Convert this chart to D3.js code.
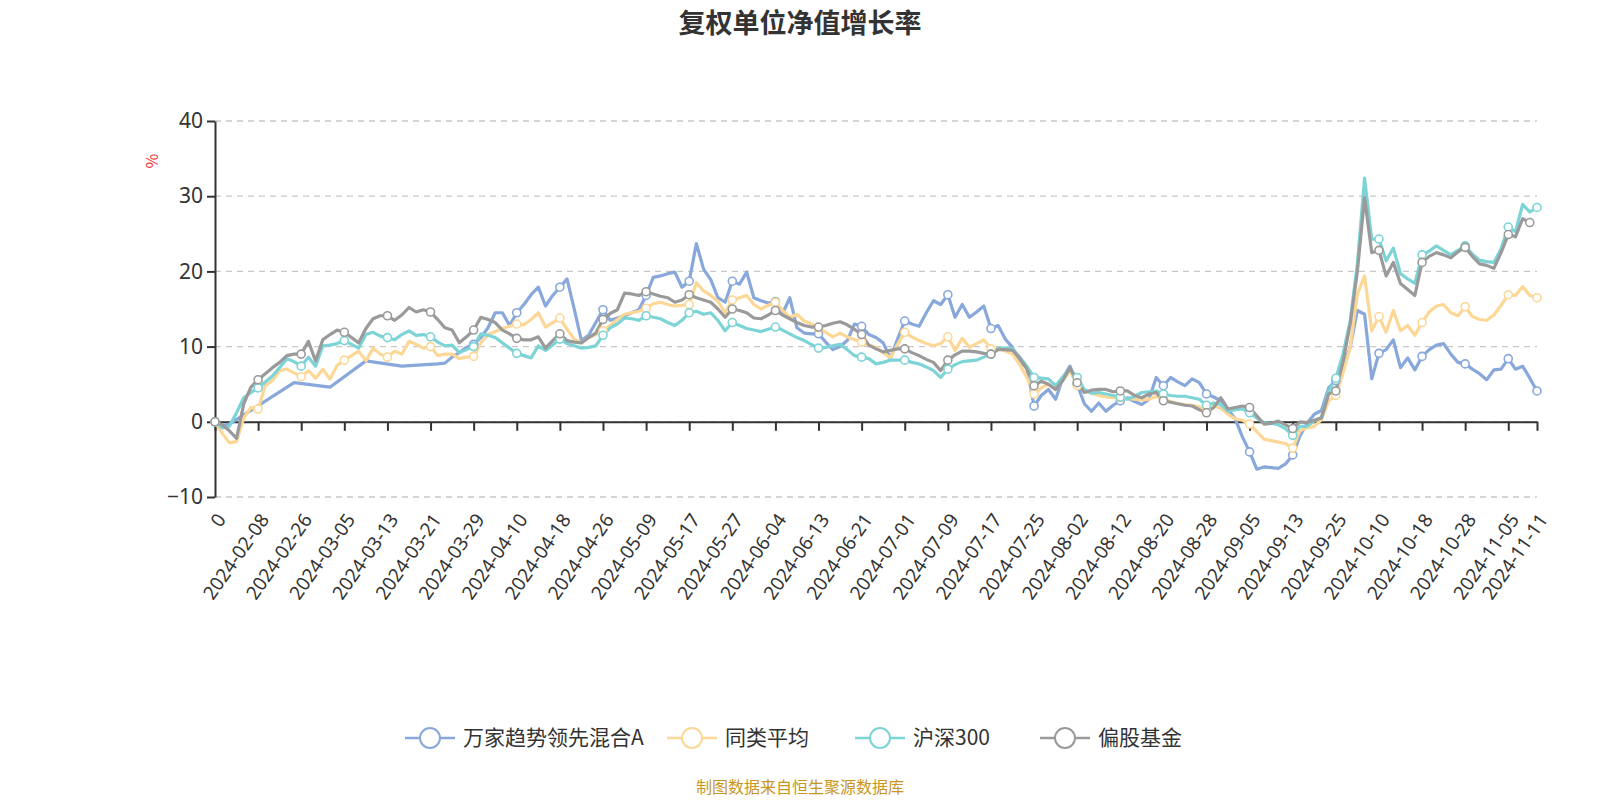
<!DOCTYPE html>
<html>
<head>
<meta charset="utf-8">
<script src="https://cdn.jsdelivr.net/npm/d3@7"></script>
<style>
  body { margin: 0; background: #fff; font-family: "Noto Sans CJK SC", "Noto Sans", sans-serif; }
</style>
</head>
<body>
<svg id="chart" width="1600" height="800"></svg>
<script>
// trading days, 2024 (first category is "0")
var tradingDays = [
    ["02", [1,2,5,6,7,8,19,20,21,22,23,26,27,28,29]],
    ["03", [1,4,5,6,7,8,11,12,13,14,15,18,19,20,21,22,25,26,27,28,29]],
    ["04", [1,2,3,8,9,10,11,12,15,16,17,18,19,22,23,24,25,26,29,30]],
    ["05", [6,7,8,9,10,13,14,15,16,17,20,21,22,23,24,27,28,29,30,31]],
    ["06", [3,4,5,6,7,11,12,13,14,17,18,19,20,21,24,25,26,27,28]],
    ["07", [1,2,3,4,5,8,9,10,11,12,15,16,17,18,19,22,23,24,25,26,29,30,31]],
    ["08", [1,2,5,6,7,8,9,12,13,14,15,16,19,20,21,22,23,26,27,28,29,30]],
    ["09", [2,3,4,5,6,9,10,11,12,13,18,19,20,23,24,25,26,27,30]],
    ["10", [8,9,10,11,14,15,16,17,18,21,22,23,24,25,28,29,30,31]],
    ["11", [1,4,5,6,7,8,11]]
];
var categories = ["0"];
tradingDays.forEach(([m, days]) => days.forEach(d => {
    categories.push("2024-" + m + "-" + String(d).padStart(2, "0"));
}));

const _ = null;
// 万家趋势领先混合A (weekly early on, gaps connected)
var fundA = [0,-0.5,-0.3,_,_,_,_,_,_,_,_,5.2,_,_,_,_,4.6,_,_,_,_,8.1,_,_,_,_,7.4,_,_,_,_,7.7,7.8,
    8.6,9.2,9.9,10.3,11.2,12.5,14.5,14.5,12.8,14.5,15.6,16.9,17.9,15.4,16.8,17.9,19.0,15.0,10.8,11.5,13.2,14.9,13.5,13.8,14.1,14.5,14.9,16.8,
    19.2,19.4,19.7,19.9,17.9,18.7,23.7,20.3,18.9,16.5,15.9,18.7,18.3,19.9,16.5,16.1,15.8,16.0,14.4,16.5,12.5,11.8,11.7,11.7,10.6,9.6,10.0,10.8,13.0,12.7,
    11.6,11.2,10.5,8.4,11.0,13.4,13.0,12.7,14.5,16.1,15.6,16.9,13.9,15.6,13.9,14.6,15.4,12.4,12.8,11.0,9.9,8.0,7.2,2.1,3.5,4.3,3.0,5.8,7.4,5.0,2.4,
    1.4,2.5,1.4,2.2,2.8,3.2,2.7,2.3,3.0,5.9,4.8,5.9,5.3,4.8,5.7,5.2,3.7,3.3,2.8,1.6,0.4,-2.0,-4.0,-6.3,-6.0,-6.1,-6.2,-5.6,-4.4,-1.9,
    -0.2,1.0,1.5,4.5,5.5,7.5,9.9,14.8,14.3,5.7,9.1,9.6,10.9,7.2,8.5,6.9,8.7,9.6,10.2,10.4,9.0,7.9,7.7,7.0,6.4,5.6,6.9,7.0,8.4,7.0,7.4,5.8,4.1];
// 同类平均
var peerAvg = [0,-1.5,-2.8,-2.6,0.5,1.9,1.7,4.8,5.5,6.8,7.0,6.5,6.0,6.8,5.8,7.0,5.7,7.5,8.2,8.8,9.4,8.1,9.8,9.0,8.6,9.4,9.0,10.7,10.3,9.8,10.0,
    8.8,9.0,9.0,8.4,8.6,8.7,10.5,11.6,12.0,12.4,12.7,13.0,12.9,13.6,14.5,12.6,13.2,13.8,12.3,11.0,10.5,11.2,11.6,12.1,12.8,13.6,14.3,14.5,14.7,15.1,
    15.7,15.9,15.6,15.4,15.5,15.6,18.5,17.4,16.8,16.0,14.5,16.2,16.5,16.8,15.6,15.0,15.5,15.9,14.8,13.9,14.3,13.4,13.0,12.5,11.9,11.3,11.8,11.3,10.9,10.6,
    10.2,9.9,9.2,8.5,10.3,11.9,11.3,10.8,10.4,10.1,10.4,11.3,9.5,11.1,9.9,10.4,10.9,9.7,9.8,9.4,9.0,7.6,5.9,3.7,4.5,5.0,4.3,5.5,6.8,4.8,4.1,
    3.8,3.5,3.3,3.2,3.2,3.1,3.0,2.9,3.0,3.4,3.0,2.7,2.4,2.3,2.2,2.0,1.4,2.1,1.8,1.0,0.4,0.2,-0.3,-1.3,-2.3,-2.5,-2.7,-2.9,-3.5,-1.2,
    -0.8,-0.6,0.3,2.8,3.5,6.5,9.9,17.0,19.4,12.1,14.0,11.9,14.8,12.1,12.8,11.5,13.2,14.6,15.4,15.6,14.5,14.1,15.3,14.0,13.6,13.5,14.2,15.5,16.9,16.8,18.0,16.8,16.5];
// 沪深300
var csi300 = [0,-0.8,-0.6,1.2,3.2,3.9,4.5,5.3,6.1,7.2,8.4,8.0,7.4,8.6,7.4,10.1,10.2,10.4,10.8,10.3,9.8,11.6,11.9,11.4,11.2,10.9,11.6,12.1,11.5,11.6,11.3,
    10.6,10.1,10.2,9.2,9.6,10.0,11.7,11.5,11.2,10.5,9.8,9.1,8.8,8.5,10.1,9.5,10.2,11.0,10.4,10.1,9.8,9.9,10.1,11.5,12.5,13.0,13.8,13.7,13.5,14.1,
    13.9,13.7,13.2,12.8,13.5,14.5,14.7,14.3,14.5,13.5,12.1,13.2,12.8,12.4,12.2,12.0,12.3,12.6,12.2,11.7,11.2,10.8,10.3,9.8,9.9,10.1,10.3,9.6,8.8,8.6,
    8.4,7.7,7.9,8.2,8.2,8.2,7.9,7.7,7.3,6.8,5.9,7.0,7.6,8.0,8.1,8.2,8.6,9.0,9.8,9.8,9.7,8.6,7.4,5.9,5.8,5.7,4.8,6.0,7.0,5.9,4.3,
    3.8,3.9,3.7,3.5,3.3,3.0,3.4,3.9,4.0,4.1,3.7,3.5,3.4,3.4,3.2,3.0,2.2,2.5,2.3,1.4,1.6,1.7,1.2,0.5,-0.1,-0.2,-0.4,-0.9,-1.8,-0.6,
    -0.6,0.1,0.6,4.1,5.8,9.0,13.4,21.0,32.4,24.3,24.3,21.4,23.1,19.7,19.0,18.4,22.2,22.7,23.4,22.8,22.2,22.8,23.4,22.3,21.5,21.3,21.2,23.0,25.9,25.3,28.9,27.9,28.5];
// 偏股基金
var equityFund = [0,-0.4,-1.2,-2.2,2.4,4.6,5.6,6.4,7.2,7.9,8.8,9.0,9.0,10.7,8.1,10.9,11.6,12.2,11.9,11.2,10.5,12.4,13.7,14.1,14.1,13.5,14.2,15.2,14.6,14.9,14.6,
    13.6,12.5,12.2,10.5,11.3,12.2,13.9,13.6,13.2,12.2,11.7,11.1,10.9,10.9,11.3,9.8,10.8,11.7,10.8,10.6,10.5,11.2,11.8,13.6,14.4,14.9,17.1,17.0,16.8,17.3,
    17.0,16.7,16.5,15.9,16.2,16.9,16.5,16.2,15.9,15.0,13.9,15.0,14.8,14.5,13.8,13.7,14.2,14.8,14.2,13.7,13.2,12.8,12.6,12.6,12.8,13.1,13.3,12.9,12.3,11.6,
    10.2,9.7,9.3,9.5,9.7,9.7,9.2,8.8,8.3,7.9,6.8,8.2,8.9,9.4,9.4,9.3,9.1,9.0,9.6,9.6,9.5,8.5,7.0,4.8,5.4,5.0,4.3,5.5,7.2,5.2,3.9,
    4.2,4.3,4.3,4.0,4.1,4.1,3.5,3.2,3.7,3.9,2.8,2.6,2.4,2.2,2.1,1.6,1.2,1.9,3.2,1.7,1.9,2.1,1.9,0.8,-0.3,-0.2,0.1,-0.4,-0.9,0,
    -0.1,0.2,0.5,3.7,4.1,8.0,13.0,20.0,29.8,22.5,22.8,19.4,21.2,18.4,17.6,16.8,21.2,22.0,22.5,22.2,21.8,22.6,23.2,22.0,21.0,20.8,20.4,22.5,24.9,24.6,27.0,26.5,_];

var seriesNames = ["万家趋势领先混合A", "同类平均", "沪深300", "偏股基金"];
var seriesData = [fundA, peerAvg, csi300, equityFund];
var colors = ["#88a8db", "#fdd796", "#7dd4d6", "#9a9a9a"];
var yTicks = [-10, 0, 10, 20, 30, 40];

const svg = d3.select("#chart");
const margin = {left: 215, right: 63, top: 121, bottom: 303};
const W = 1600, H = 800;

const x = d3.scalePoint().domain(d3.range(categories.length)).range([margin.left, W - margin.right]);
const y = d3.scaleLinear().domain([-10, 40]).range([H - margin.bottom, margin.top]);

// title
svg.append("text").attr("x", 800).attr("y", 33).attr("text-anchor", "middle")
    .attr("font-size", 27).attr("font-weight", "bold").attr("fill", "#333")
    .text("复权单位净值增长率");

// grid
svg.append("g").selectAll("line").data(yTicks).join("line")
    .attr("x1", margin.left).attr("x2", W - margin.right)
    .attr("y1", d => y(d)).attr("y2", d => y(d))
    .attr("stroke", "#c8c8c8").attr("stroke-width", 1.3).attr("stroke-dasharray", "6,5");

// y axis
const yAxis = svg.append("g").attr("transform", `translate(${margin.left},0)`)
    .call(d3.axisLeft(y).tickValues(yTicks).tickSize(8).tickSizeOuter(0));
yAxis.select(".domain").attr("stroke", "#333").attr("stroke-width", 2);
yAxis.selectAll(".tick line").attr("stroke", "#333").attr("stroke-width", 2);
yAxis.selectAll(".tick text").attr("font-size", 21).attr("fill", "#333")
    .attr("font-family", "Noto Sans, sans-serif").attr("x", -12);

svg.append("text").attr("transform", `translate(158,161) rotate(-90)`)
    .attr("text-anchor", "middle").attr("font-size", 16).attr("fill", "#e33").text("%");

// x axis at zero
const labelIdx = d3.range(0, categories.length, 6).concat([categories.length - 1]);
const xAxis = svg.append("g").attr("transform", `translate(0,${y(0)})`)
    .call(d3.axisBottom(x).tickValues(labelIdx).tickSize(9).tickSizeOuter(0).tickFormat(i => categories[i]));
xAxis.select(".domain").attr("stroke", "#333").attr("stroke-width", 2);
xAxis.selectAll(".tick line").attr("stroke", "#333").attr("stroke-width", 2);
xAxis.selectAll(".tick text")
    .attr("font-size", 19).attr("fill", "#333").attr("font-family", "Noto Sans, sans-serif")
    .attr("text-anchor", "end").attr("dy", "0.35em")
    .attr("transform", `translate(-4,${y(-10) - y(0) + 12}) rotate(-55)`);

// lines
const line = d3.line().x(d => x(d[0])).y(d => y(d[1]));

seriesData.forEach((vals, k) => {
    const pts = vals.map((v, i) => [i, v]).filter(d => d[1] !== null);
    svg.append("path").datum(pts)
        .attr("fill", "none").attr("stroke", colors[k]).attr("stroke-width", 3.2)
        .attr("stroke-linejoin", "round").attr("d", line);
});
seriesData.forEach((vals, k) => {
    const last = d3.max(vals.map((v, i) => v !== null ? i : -1));
    const marks = vals.map((v, i) => [i, v])
        .filter(d => d[1] !== null && (d[0] % 6 === 0 || d[0] === last));
    svg.append("g").selectAll("circle").data(marks).join("circle")
        .attr("cx", d => x(d[0])).attr("cy", d => y(d[1])).attr("r", 4)
        .attr("fill", "#fff").attr("stroke", colors[k]).attr("stroke-width", 1.6);
});

// legend
const legendW = [262, 188, 185, 160];
let lx = 405;
seriesNames.forEach((name, k) => {
    const g = svg.append("g").attr("transform", `translate(${lx},738)`);
    g.append("line").attr("x1", 0).attr("x2", 50).attr("stroke", colors[k]).attr("stroke-width", 2.5);
    g.append("circle").attr("cx", 25).attr("r", 10).attr("fill", "#fff")
        .attr("stroke", colors[k]).attr("stroke-width", 2);
    g.append("text").attr("x", 58).attr("dy", "0.35em").attr("font-size", 21).attr("fill", "#333").text(name);
    lx += legendW[k];
});

svg.append("text").attr("x", 800).attr("y", 793).attr("text-anchor", "middle")
    .attr("font-size", 16).attr("fill", "#c8961e").text("制图数据来自恒生聚源数据库");
</script>
</body>
</html>
